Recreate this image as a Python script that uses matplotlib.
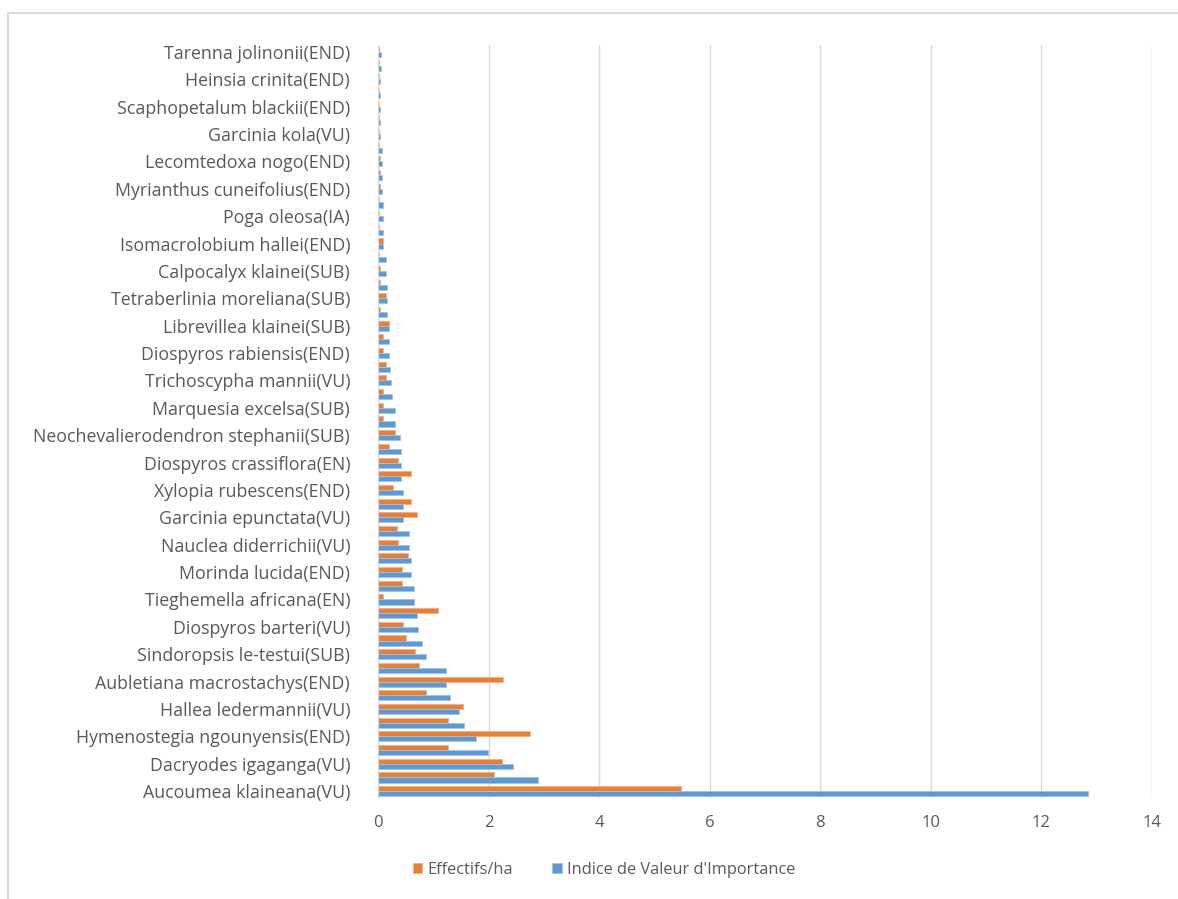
import numpy as np
import matplotlib
matplotlib.use("Agg")
import matplotlib.pyplot as plt
from matplotlib.patches import Rectangle

plt.rcParams.update({
    "font.family": ["Open Sans", "DejaVu Sans"],
    "font.size": 12.8,
})

# species shown on the axis (every second category, bottom to top)
labels = [
    "Aucoumea klaineana(VU)", "Dacryodes igaganga(VU)", "Hymenostegia ngounyensis(END)",
    "Hallea ledermannii(VU)", "Aubletiana macrostachys(END)", "Sindoropsis le-testui(SUB)",
    "Diospyros barteri(VU)", "Tieghemella africana(EN)", "Morinda lucida(END)",
    "Nauclea diderrichii(VU)", "Garcinia epunctata(VU)", "Xylopia rubescens(END)",
    "Diospyros crassiflora(EN)", "Neochevalierodendron stephanii(SUB)", "Marquesia excelsa(SUB)",
    "Trichoscypha mannii(VU)", "Diospyros rabiensis(END)", "Librevillea klainei(SUB)",
    "Tetraberlinia moreliana(SUB)", "Calpocalyx klainei(SUB)", "Isomacrolobium hallei(END)",
    "Poga oleosa(IA)", "Myrianthus cuneifolius(END)", "Lecomtedoxa nogo(END)",
    "Garcinia kola(VU)", "Scaphopetalum blackii(END)", "Heinsia crinita(END)",
    "Tarenna jolinonii(END)",
]

# 55 species, bottom to top
effectifs = [
    5.48, 2.09, 2.24, 1.27, 2.75, 1.27, 1.53, 0.86, 2.27, 0.74,
    0.67, 0.51, 0.46, 1.09, 0.09, 0.44, 0.44, 0.54, 0.37, 0.35,
    0.70, 0.60, 0.28, 0.60, 0.37, 0.19, 0.30, 0.09, 0.09, 0.09,
    0.14, 0.14, 0.09, 0.09, 0.19, 0.04, 0.14, 0.04, 0.04, 0.02,
    0.09, 0.02, 0.02, 0.02, 0.04, 0.04, 0.04, 0.02, 0.01, 0.01,
    0.02, 0.02, 0.01, 0.02, 0.02,
]
ivi = [
    12.84, 2.90, 2.45, 1.99, 1.78, 1.55, 1.46, 1.30, 1.23, 1.23,
    0.86, 0.79, 0.72, 0.70, 0.645, 0.645, 0.60, 0.60, 0.56, 0.56,
    0.46, 0.45, 0.45, 0.42, 0.42, 0.42, 0.40, 0.30, 0.30, 0.25,
    0.235, 0.21, 0.19, 0.19, 0.19, 0.16, 0.16, 0.16, 0.14, 0.14,
    0.09, 0.09, 0.09, 0.09, 0.07, 0.07, 0.07, 0.07, 0.04, 0.04,
    0.04, 0.04, 0.04, 0.05, 0.05,
]

orange = "#ED7D31"
blue = "#5B9BD5"
grey_txt = "#595959"

fig = plt.figure(figsize=(11.78, 8.99), dpi=100)
ax = fig.add_axes([378/1178, 1 - 798/899, (1152 - 378)/1178, (798 - 45)/899])

y = np.arange(len(ivi))
h = 0.37
ax.barh(y + h/2, effectifs, height=h, color=orange, edgecolor="#f4b183",
        linewidth=0.6, label="Effectifs/ha", zorder=3)
ax.barh(y - h/2, ivi, height=h, color=blue, edgecolor="#9dc3e6",
        linewidth=0.6, label="Indice de Valeur d'Importance", zorder=3)

ax.set_xlim(0, 14)
ax.set_ylim(-0.5, len(ivi) - 0.5)
ax.set_xticks(np.arange(0, 15, 2))
ax.set_yticks(np.arange(0, len(ivi), 2))
ax.set_yticklabels(labels)
ax.tick_params(axis="y", length=0, pad=20, colors=grey_txt, labelsize=12.8)
ax.tick_params(axis="x", length=0, pad=12, colors=grey_txt, labelsize=12)
ax.grid(axis="x", color="#d9d9d9", linewidth=1, zorder=0)
for s in ["top", "right", "bottom"]:
    ax.spines[s].set_visible(False)
ax.spines["left"].set_color("#d9d9d9")
ax.spines["left"].set_zorder(4)

leg = ax.legend(loc="center", bbox_to_anchor=(604/1178, 1 - 870/899),
                bbox_transform=fig.transFigure, ncol=2, frameon=False,
                handlelength=0.6, handleheight=0.6, handletextpad=0.3,
                columnspacing=2.4, fontsize=11.8)
for t in leg.get_texts():
    t.set_color(grey_txt)

# chart border
fig.patches.append(Rectangle((8/1178, -0.1), 1.2, 1 - 13/899 + 0.1, transform=fig.transFigure,
                             fill=False, edgecolor="#d9d9d9", linewidth=1.5))

fig.savefig("out.png", dpi=100)
